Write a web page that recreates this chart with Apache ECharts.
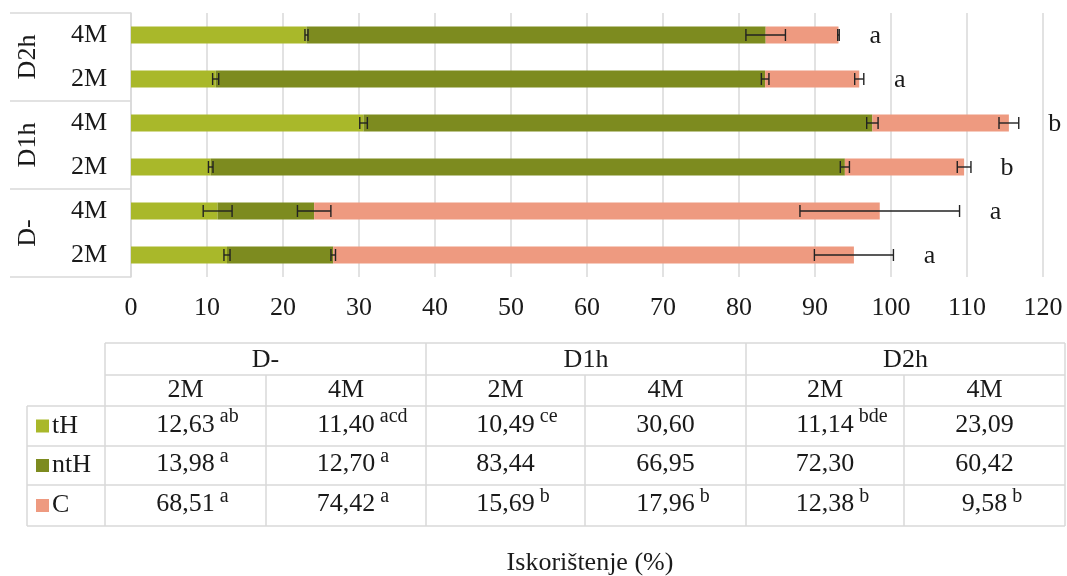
<!DOCTYPE html>
<html><head><meta charset="utf-8">
<script src="https://cdn.jsdelivr.net/npm/echarts@6/dist/echarts.min.js"></script>
<style>html,body{margin:0;padding:0;background:#fff}#c{width:1067px;height:576px}</style>
</head><body><div id="c"></div>
<script>
// ---- data ----
const groups = ['D-', 'D1h', 'D2h'];
const times = ['2M', '4M'];
const categories = ['D- 2M', 'D- 4M', 'D1h 2M', 'D1h 4M', 'D2h 2M', 'D2h 4M'];
const seriesNames = ['tH', 'ntH', 'C'];
const tH = [12.63, 11.40, 10.49, 30.60, 11.14, 23.09];
const ntH = [13.98, 12.70, 83.44, 66.95, 72.30, 60.42];
const C = [68.51, 74.42, 15.69, 17.96, 12.38, 9.58];
const tHErr = [0.4, 1.9, 0.3, 0.5, 0.4, 0.2];
const ntHErr = [0.3, 2.2, 0.6, 0.75, 0.5, 2.6];
const CErr = [5.2, 10.5, 0.9, 1.3, 0.6, 0.1];
const totalLetters = ['a', 'a', 'b', 'b', 'a', 'a'];
const tHSup = ['ab', 'acd', 'ce', '', 'bde', ''];
const ntHSup = ['a', 'a', '', '', '', ''];
const CSup = ['a', 'a', 'b', 'b', 'b', 'b'];
const axisTitle = 'Iskorištenje (%)';
const xMin = 0, xMax = 120, xStep = 10;

// ---- style ----
const colors = ['#A9B82A', '#7D8B1F', '#EE9A80'];
const FONT = '"Liberation Serif", "Times New Roman", serif';
const TXT = '#1a1a1a';
const GRID = '#d9d9d9';
const FS = 26;
const SFS = 20;

const values = [tH, ntH, C];
const errs = [tHErr, ntHErr, CErr];
const sups = [tHSup, ntHSup, CSup];

// cumulative ends for error bars
const errData = [];
const letterData = [];
for (let i = 0; i < categories.length; i++) {
  let cum = 0;
  for (let s = 0; s < 3; s++) {
    cum += values[s][i];
    errData.push([cum, i, errs[s][i]]);
  }
  letterData.push([cum + errs[2][i], i]);
}

const chart = echarts.init(document.getElementById('c'), null, {renderer: 'canvas'});

const option = {
  animation: false,
  backgroundColor: '#fff',
  grid: {left: 131, right: 24, top: 13, height: 264, containLabel: false},
  xAxis: {
    type: 'value', min: xMin, max: xMax, interval: xStep,
    axisLine: {show: false}, axisTick: {show: false},
    splitLine: {show: true, lineStyle: {color: GRID, width: 1.5}},
    axisLabel: {color: TXT, fontFamily: FONT, fontSize: FS, margin: 18}
  },
  yAxis: {
    type: 'category', data: categories,
    axisLine: {show: true, lineStyle: {color: GRID, width: 1.5}},
    axisTick: {show: false},
    axisLabel: {color: TXT, fontFamily: FONT, fontSize: FS, margin: 24,
      formatter: v => v.split(' ')[1]}
  },
  series: [
    ...seriesNames.map((n, s) => ({
      name: n, type: 'bar', stack: 'total', barWidth: 17,
      itemStyle: {color: colors[s]},
      data: values[s]
    })),
    {
      type: 'custom', z: 5, silent: true,
      data: errData,
      encode: {x: 0, y: 1},
      renderItem(params, api) {
        const end = api.value(0), idx = api.value(1), err = api.value(2);
        const p1 = api.coord([end - err, idx]);
        const p2 = api.coord([end + err, idx]);
        const h = 6;
        const st = {stroke: '#222', lineWidth: 1.4};
        return {type: 'group', children: [
          {type: 'line', shape: {x1: p1[0], y1: p1[1], x2: p2[0], y2: p2[1]}, style: st},
          {type: 'line', shape: {x1: p1[0], y1: p1[1] - h, x2: p1[0], y2: p1[1] + h}, style: st},
          {type: 'line', shape: {x1: p2[0], y1: p2[1] - h, x2: p2[0], y2: p2[1] + h}, style: st}
        ]};
      }
    },
    {
      type: 'custom', z: 5, silent: true,
      data: letterData,
      encode: {x: 0, y: 1},
      renderItem(params, api) {
        const p = api.coord([api.value(0), api.value(1)]);
        return {type: 'text', x: p[0] + 36, y: p[1] + 1,
          style: {text: totalLetters[params.dataIndex], fill: TXT, font: FS + 'px ' + FONT,
            align: 'center', verticalAlign: 'middle'}};
      }
    }
  ]
};
chart.setOption(option);

// ---- extra graphics: group labels, separators, data table ----
const ctx = document.createElement('canvas').getContext('2d');
function tw(str, size) { ctx.font = size + 'px ' + FONT; return ctx.measureText(str).width; }
function txt(x, y, text, size, align) {
  return {type: 'text', x, y, silent: true,
    style: {text, fill: TXT, font: size + 'px ' + FONT, align: align || 'center', verticalAlign: 'middle'}};
}
function ln(x1, y1, x2, y2) {
  return {type: 'line', silent: true, shape: {x1, y1, x2, y2}, style: {stroke: GRID, lineWidth: 1.5}};
}

const els = [];
const yPix = categories.map((c, i) => chart.convertToPixel({gridIndex: 0}, [0, i]));
const band = Math.abs(yPix[0][1] - yPix[1][1]);
const axisX = yPix[0][0];
groups.forEach((g, gi) => {
  const yA = yPix[gi * 2][1], yB = yPix[gi * 2 + 1][1];
  const cy = (yA + yB) / 2;
  els.push({type: 'text', x: 28, y: cy, rotation: Math.PI / 2, silent: true,
    style: {text: g, fill: TXT, font: FS + 'px ' + FONT, align: 'center', verticalAlign: 'middle'}});
  els.push(ln(10, yA + band / 2, axisX, yA + band / 2));
  if (gi === groups.length - 1) els.push(ln(10, yB - band / 2, axisX, yB - band / 2));
});

// table
const colX = [105, 266, 426, 585, 746, 904, 1065];
const rowY = [343, 375, 406, 446, 485, 526];
const labelLeft = 27;
els.push(ln(colX[0], rowY[0], colX[6], rowY[0]));
els.push(ln(colX[0], rowY[1], colX[6], rowY[1]));
for (let r = 2; r < rowY.length; r++) els.push(ln(labelLeft, rowY[r], colX[6], rowY[r]));
els.push(ln(labelLeft, rowY[2], labelLeft, rowY[5]));
[0, 2, 4, 6].forEach(c => els.push(ln(colX[c], rowY[0], colX[c], rowY[5])));
[1, 3, 5].forEach(c => els.push(ln(colX[c], rowY[1], colX[c], rowY[5])));

groups.forEach((g, gi) => {
  els.push(txt((colX[gi * 2] + colX[gi * 2 + 2]) / 2, (rowY[0] + rowY[1]) / 2 + 1, g, FS));
  times.forEach((t, ti) => {
    const c = gi * 2 + ti;
    els.push(txt((colX[c] + colX[c + 1]) / 2, (rowY[1] + rowY[2]) / 2, t, FS));
  });
});
seriesNames.forEach((n, s) => {
  const cy = (rowY[s + 2] + rowY[s + 3]) / 2;
  els.push({type: 'rect', silent: true, shape: {x: 36, y: cy - 6.5, width: 13, height: 13}, style: {fill: colors[s]}});
  els.push(txt(52, cy, n, FS, 'left'));
  for (let i = 0; i < categories.length; i++) {
    const cx = (colX[i] + colX[i + 1]) / 2;
    const num = values[s][i].toFixed(2).replace('.', ',');
    els.push(txt(cx, cy - 1, num, FS));
    if (sups[s][i]) {
      els.push(txt(cx + tw(num, FS) / 2 + 5, cy - 9, sups[s][i], SFS, 'left'));
    }
  }
});
// axis title
const gx0 = chart.convertToPixel({gridIndex: 0}, [xMin, 0])[0];
const gx1 = chart.convertToPixel({gridIndex: 0}, [xMax, 0])[0];
els.push(txt((gx0 + gx1) / 2 + 3, 563, axisTitle, FS));

chart.setOption({graphic: {elements: els}});
</script></body></html>
